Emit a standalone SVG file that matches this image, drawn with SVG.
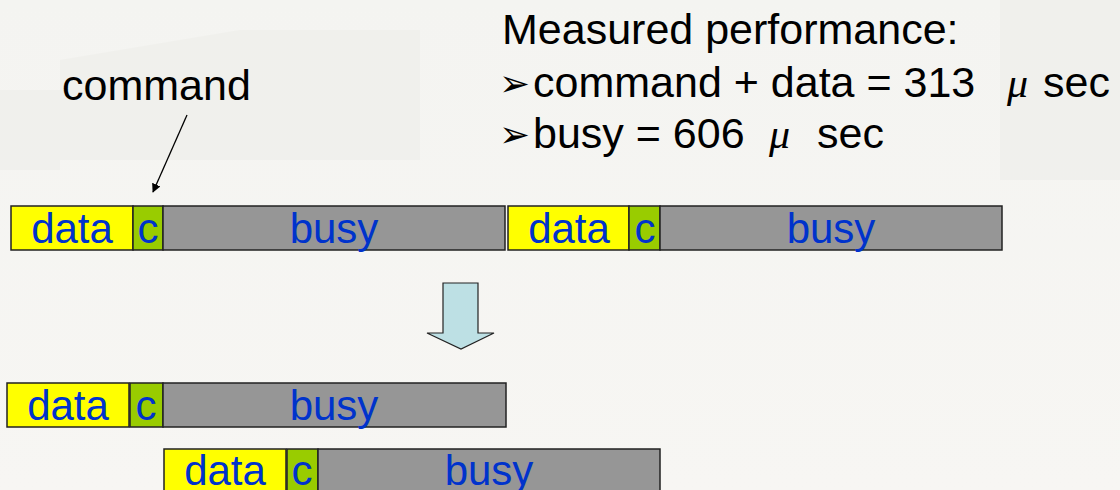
<svg xmlns="http://www.w3.org/2000/svg" width="1120" height="490" viewBox="0 0 1120 490">
  <defs>
    <style>
      .lbl { font-family: "Liberation Sans", Arial, sans-serif; font-size: 43px; fill: #000; }
      .mu { font-family: "Liberation Serif", "Times New Roman", serif; font-style: italic; font-size: 42px; fill: #000; }
      .bul { font-family: "DejaVu Sans", sans-serif; font-size: 37px; fill: #000; }
      .seg { stroke: #222; stroke-width: 1.5; }
      .data { fill: #ffff00; }
      .cmd { fill: #99cc00; }
      .busy { fill: #969696; }
      .bt { font-family: "Liberation Sans", Arial, sans-serif; font-size: 42px; fill: #0033cc; text-anchor: middle; }
    </style>
    <marker id="tip" viewBox="0 0 10 10" refX="9" refY="5" markerWidth="9" markerHeight="9" markerUnits="userSpaceOnUse" orient="auto">
      <path d="M0,0 L10,5 L0,10 z" fill="#000"/>
    </marker>
    <linearGradient id="bg" x1="0" y1="0" x2="0" y2="1">
      <stop offset="0" stop-color="#f4f4f1"/>
      <stop offset="1" stop-color="#f7f6f3"/>
    </linearGradient>
  </defs>

  <!-- backdrop -->
  <rect x="0" y="0" width="1120" height="490" fill="url(#bg)"/>
  <g fill="#ecece7" opacity="0.45">
    <path d="M60,60 L240,30 L420,30 L420,160 L60,160 z"/>
    <rect x="0" y="90" width="60" height="80"/>
    <rect x="1000" y="0" width="120" height="180"/>
  </g>

  <!-- labels -->
  <g id="label-command">
    <text class="lbl" x="62" y="100">command</text>
  </g>
  <g id="label-measured">
    <text class="lbl" x="502" y="44">Measured performance:</text>
    <text class="bul" x="499" y="96">➢</text>
    <text class="lbl" x="533" y="97">command + data = 313</text>
    <text class="mu" x="1007" y="97">μ</text>
    <text class="lbl" x="1043" y="97">sec</text>
    <text class="bul" x="499" y="147">➢</text>
    <text class="lbl" x="533" y="148">busy = 606</text>
    <text class="mu" x="769" y="148">μ</text>
    <text class="lbl" x="817" y="148">sec</text>
  </g>

  <!-- sequential transfers -->
  <g id="seq-1">
    <rect class="seg data" x="11" y="206" width="122" height="44"/>
    <rect class="seg cmd" x="133" y="206" width="30" height="44"/>
    <rect class="seg busy" x="163" y="206" width="342" height="44"/>
    <text class="bt" x="72" y="243">data</text>
    <text class="bt" x="148" y="243">c</text>
    <text class="bt" x="334" y="243">busy</text>
  </g>
  <g id="seq-2">
    <rect class="seg data" x="508" y="206" width="121" height="44"/>
    <rect class="seg cmd" x="629" y="206" width="31" height="44"/>
    <rect class="seg busy" x="660" y="206" width="342" height="44"/>
    <text class="bt" x="569" y="243">data</text>
    <text class="bt" x="645" y="243">c</text>
    <text class="bt" x="831" y="243">busy</text>
  </g>

  <!-- overlapped transfers -->
  <g id="ovl-1">
    <rect class="seg data" x="7" y="383" width="122" height="44"/>
    <rect class="seg cmd" x="130" y="383" width="33" height="44"/>
    <rect class="seg busy" x="163" y="383" width="343" height="44"/>
    <text class="bt" x="68" y="420">data</text>
    <text class="bt" x="146" y="420">c</text>
    <text class="bt" x="334" y="420">busy</text>
  </g>
  <g id="ovl-2">
    <rect class="seg data" x="164" y="449" width="122" height="44"/>
    <rect class="seg cmd" x="287" y="449" width="31" height="44"/>
    <rect class="seg busy" x="318" y="449" width="342" height="44"/>
    <text class="bt" x="225" y="485">data</text>
    <text class="bt" x="302" y="485">c</text>
    <text class="bt" x="489" y="485">busy</text>
  </g>

  <!-- transition arrow -->
  <g id="down-arrow">
    <path d="M443,283 L478,283 L478,333 L494,333 L461,349 L427,333 L443,333 z" fill="#bde0e4" stroke="#222" stroke-width="1.2"/>
  </g>

  <!-- connectors -->
  <g id="connectors">
    <line x1="187" y1="115" x2="153" y2="192" stroke="#000" stroke-width="1.3" marker-end="url(#tip)"/>
  </g>
</svg>
